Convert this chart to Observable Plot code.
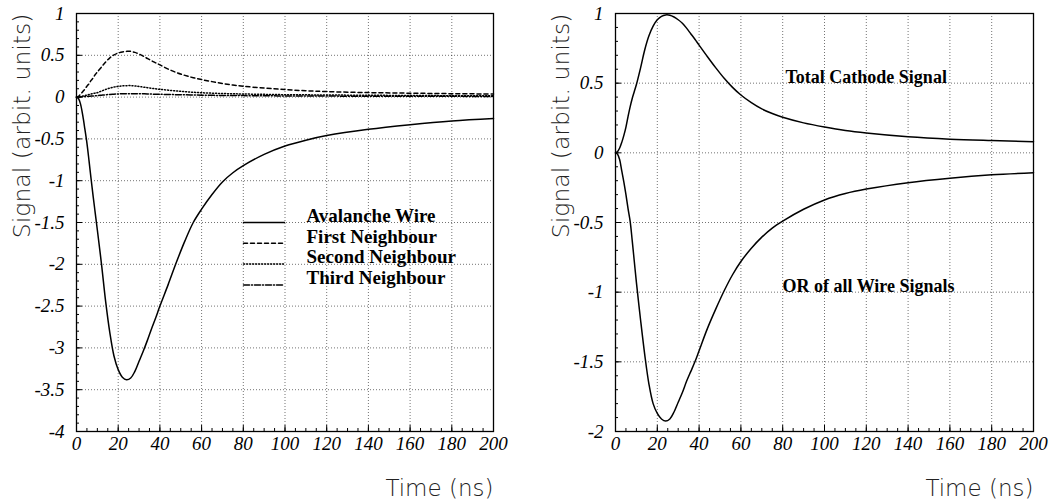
<!DOCTYPE html>
<html><head><meta charset="utf-8">
<script src="https://cdn.jsdelivr.net/npm/d3@7"></script>
<script src="https://cdn.jsdelivr.net/npm/@observablehq/plot@0.6"></script>
<style>
body{margin:0;background:#fff;}
#wrap{display:flex;width:1050px;height:502px;}
</style></head><body><div id="wrap"></div>
<script>
// ---- data ----
const times = [0,1,2,3,4,5,6,7,8,9,10,12,14,16,18,20,22,24,26,28,30,32,34,36,38,40,44,48,52,56,60,65,70,75,80,90,100,110,120,140,160,180,200];
const avalancheWire = [0,-0.02,-0.09,-0.22,-0.38,-0.55,-0.76,-0.98,-1.19,-1.39,-1.59,
  -2.0,-2.45,-2.82,-3.1,-3.26,-3.35,-3.38,-3.36,-3.28,-3.16,-3.04,-2.91,-2.77,-2.64,-2.5,
  -2.24,-1.97,-1.72,-1.5,-1.34, -1.165,-1.015,-0.905,-0.82, -0.685,-0.585,-0.515,-0.46, -0.385,-0.33,-0.285,-0.255];
const firstNeighbour = [0,0.01,0.035,0.065,0.095,0.13,0.16,0.2,0.23,0.27,0.3,
  0.36,0.42,0.47,0.505,0.527,0.54,0.547,0.547,0.535,0.515,0.49,0.462,0.435,0.41,0.385,
  0.335,0.293,0.26,0.232,0.21, 0.185,0.163,0.145,0.13, 0.108,0.09,0.076,0.066, 0.054,0.047,0.041,0.037];
const secondNeighbour = [0,0.002,0.006,0.012,0.018,0.025,0.031,0.037,0.043,0.048,0.053,
  0.072,0.092,0.108,0.12,0.128,0.134,0.137,0.137,0.133,0.127,0.12,0.113,0.106,0.099,0.093,
  0.083,0.073,0.065,0.058,0.052, 0.047,0.043,0.04,0.037, 0.033,0.029,0.027,0.025, 0.022,0.019,0.017,0.015];
const thirdNeighbour = [0,0.001,0.002,0.004,0.006,0.008,0.01,0.012,0.014,0.016,0.018,
  0.023,0.028,0.032,0.035,0.038,0.04,0.041,0.041,0.041,0.04,0.039,0.038,0.036,0.035,0.034,
  0.031,0.029,0.027,0.025,0.023, 0.021,0.02,0.019,0.018, 0.016,0.014,0.013,0.012, 0.011,0.01,0.009,0.008];
const totalCathode = [0,0.01,0.035,0.075,0.125,0.185,0.26,0.33,0.39,0.44,0.49,
  0.61,0.74,0.84,0.91,0.955,0.98,0.99,0.988,0.975,0.955,0.93,0.895,0.855,0.815,0.773,
  0.69,0.61,0.535,0.47,0.415, 0.36,0.315,0.282,0.255, 0.215,0.185,0.16,0.142, 0.115,0.098,0.088,0.08];
const wireOr = [0,-0.01,-0.05,-0.13,-0.21,-0.3,-0.4,-0.49,-0.63,-0.78,-0.93,
  -1.2,-1.45,-1.66,-1.8,-1.87,-1.91,-1.925,-1.91,-1.86,-1.79,-1.72,-1.64,-1.57,-1.5,-1.42,
  -1.26,-1.12,-0.99,-0.875,-0.78, -0.685,-0.605,-0.54,-0.49, -0.405,-0.338,-0.292,-0.26, -0.214,-0.182,-0.158,-0.143];

const leftSeriesNames = ["Avalanche Wire","First Neighbour","Second Neighbour","Third Neighbour"];
const rightLabels = ["Total Cathode Signal","OR of all Wire Signals"];
const xTicks = [0,20,40,60,80,100,120,140,160,180,200];
const yTicksLeft = [-4,-3.5,-3,-2.5,-2,-1.5,-1,-0.5,0,0.5,1];
const yTicksRight = [-2,-1.5,-1,-0.5,0,0.5,1];
const xLabel = "Time (ns)";
const yLabel = "Signal (arbit. units)";

// ---- styles ----
const dashes = ["none","4,3","1,2","6,2,1,2"];
const svgStyle = {background:"white", color:"black", overflow:"visible"};
const tickFont = {fontFamily:"Liberation Serif", fontStyle:"italic", fontSize:19, fill:"black"};
const titleFont = {fontFamily:"DejaVu Sans", fontStyle:"normal", fontWeight:200, fill:"#222"};
const boldFont = {fontFamily:"Liberation Serif", fontStyle:"normal", fontWeight:"bold", fontSize:18, fill:"black"};
const lineShape = {draw(ctx, l){ ctx.moveTo(0,0); ctx.lineTo(0,-l); }};
const curve = "catmull-rom";

const toRows = (vals) => times.map((t,i) => ({t, v: vals[i]}));
const xMinor = d3.range(0, 201, 5);
const minorY = (lo, hi) => d3.range(Math.round(lo*10), Math.round(hi*10)+1).map(d => d/10);

function common(yTicks, yDomain) {
  return [
    Plot.gridX(xTicks, {stroke:"#000", strokeOpacity:0.55, strokeDasharray:"1,2", strokeWidth:1}),
    Plot.gridY(yTicks, {stroke:"#000", strokeOpacity:0.55, strokeDasharray:"1,2", strokeWidth:1}),
    Plot.axisX(xMinor, {tickSize:-3, fill:"none", strokeWidth:1}),
    Plot.axisX(xTicks, {tickSize:-6, fill:"none", strokeWidth:1}),
    Plot.axisY(minorY(yDomain[0], yDomain[1]), {tickSize:-3, fill:"none", strokeWidth:1}),
    Plot.axisY(yTicks, {tickSize:-6, fill:"none", strokeWidth:1}),
    // tick labels, positioned by the x / y scales
    Plot.text(xTicks, {x:d=>d, text:d=>String(d), frameAnchor:"bottom", dy:5, lineAnchor:"top", textAnchor:"middle", ...tickFont}),
    Plot.text(yTicks, {y:d=>d, text:d=>String(d), frameAnchor:"left", dx:-12, lineAnchor:"middle", textAnchor:"end", ...tickFont}),
    Plot.frame({stroke:"black", strokeWidth:1.3}),
    Plot.text([xLabel], {frameAnchor:"bottom-right", dy:57, textAnchor:"end", lineAnchor:"middle", fontSize:23, ...titleFont}),
    Plot.text([yLabel], {frameAnchor:"top-left", dx:-54, rotate:-90, textAnchor:"end", lineAnchor:"middle", fontSize:23.5, ...titleFont})
  ];
}

const leftData = [avalancheWire, firstNeighbour, secondNeighbour, thirdNeighbour];
const left = Plot.plot({
  width:525, height:502, marginLeft:76, marginRight:32, marginTop:13, marginBottom:71,
  x:{domain:[0,200]}, y:{domain:[-4,1]},
  style:svgStyle,
  marks:[
    ...common(yTicksLeft, [-4,1]),
    ...leftData.map((vals,i) => Plot.line(toRows(vals), {x:"t", y:"v", curve, stroke:"black", strokeWidth:1.5, strokeDasharray:dashes[i]})),
    ...leftSeriesNames.map((name,i) => Plot.vector([name], {frameAnchor:"top-left", dx:167, dy:209 + 20.8*i, rotate:90, anchor:"start", length:41, shape:lineShape, stroke:"black", strokeWidth:1.5, strokeDasharray:dashes[i]})),
    Plot.text([leftSeriesNames.join("\n")], {frameAnchor:"top-left", dx:230, dy:194, textAnchor:"start", lineAnchor:"top", lineHeight:1.08, ...boldFont, fontSize:19})
  ]
});

const right = Plot.plot({
  width:525, height:502, marginLeft:90, marginRight:17, marginTop:13, marginBottom:71,
  x:{domain:[0,200]}, y:{domain:[-2,1]},
  style:svgStyle,
  marks:[
    ...common(yTicksRight, [-2,1]),
    Plot.line(toRows(totalCathode), {x:"t", y:"v", curve, stroke:"black", strokeWidth:1.5}),
    Plot.line(toRows(wireOr), {x:"t", y:"v", curve, stroke:"black", strokeWidth:1.5}),
    Plot.text([rightLabels[0]], {frameAnchor:"top-left", dx:170, dy:64, textAnchor:"start", lineAnchor:"middle", ...boldFont}),
    Plot.text([rightLabels[1]], {frameAnchor:"top-left", dx:167, dy:273, textAnchor:"start", lineAnchor:"middle", ...boldFont})
  ]
});

document.getElementById("wrap").append(left, right);
</script></body></html>
